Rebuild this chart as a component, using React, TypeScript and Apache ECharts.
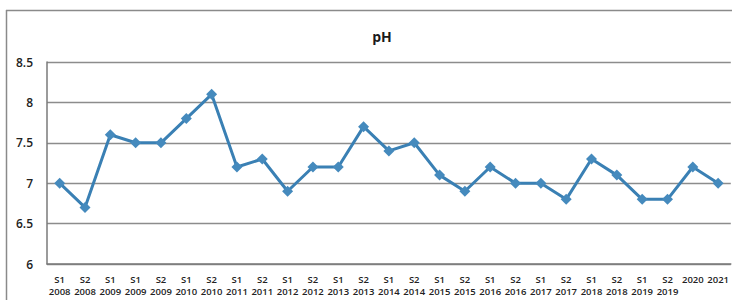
import React, { useEffect, useRef } from "react";
import * as echarts from "echarts";

const categories = [
  "S1\n2008", "S2\n2008", "S1\n2009", "S1\n2009", "S2\n2009", "S1\n2010", "S2\n2010",
  "S1\n2011", "S2\n2011", "S1\n2012", "S2\n2012", "S1\n2013", "S2\n2013", "S1\n2014",
  "S2\n2014", "S1\n2015", "S2\n2015", "S1\n2016", "S2\n2016", "S1\n2017", "S2\n2017",
  "S1\n2018", "S2\n2018", "S1\n2019", "S2\n2019", "2020", "2021",
];
const phValues = [
  7.0, 6.7, 7.6, 7.5, 7.5, 7.8, 8.1, 7.2, 7.3, 6.9, 7.2, 7.2, 7.7, 7.4,
  7.5, 7.1, 6.9, 7.2, 7.0, 7.0, 6.8, 7.3, 7.1, 6.8, 6.8, 7.2, 7.0,
];
const title = "pH";
const yMin = 6;
const yMax = 8.5;
const yStep = 0.5;

export default function App() {
  const ref = useRef<HTMLDivElement>(null);
  useEffect(() => {
    document.body.style.margin = "0";
    const chart = echarts.init(ref.current!, null, { renderer: "svg" });
    const font = "'Open Sans', 'DejaVu Sans', sans-serif";
    chart.setOption({
      animation: false,
      backgroundColor: "#ffffff",
      title: {
        text: title,
        left: 377,
        top: 24,
        textAlign: "center",
        textStyle: { fontFamily: font, fontSize: 14, fontWeight: "bold", color: "#1a1a1a" },
      },
      graphic: [
        { type: "line", shape: { x1: 6.5, y1: 10, x2: 6.5, y2: 300 }, style: { stroke: "#8a8a8a", lineWidth: 1.5 } },
        { type: "line", shape: { x1: 6, y1: 10.5, x2: 732, y2: 10.5 }, style: { stroke: "#8a8a8a", lineWidth: 1.5 } },
      ],
      grid: { left: 47, right: 1, top: 62, bottom: 36, containLabel: false },
      xAxis: {
        type: "category",
        data: categories,
        boundaryGap: true,
        axisLine: { show: true, lineStyle: { color: "#7a7a7a", width: 1.5 } },
        axisTick: { show: false },
        axisLabel: {
          interval: 0,
          margin: 9,
          fontFamily: font,
          fontSize: 9.5,
          fontWeight: 600,
          color: "#222",
          lineHeight: 12,
        },
      },
      yAxis: {
        type: "value",
        min: yMin,
        max: yMax,
        interval: yStep,
        axisLine: { show: true, lineStyle: { color: "#7a7a7a", width: 1.5 } },
        axisTick: { show: false },
        splitLine: { show: true, lineStyle: { color: "#8c8c8c", width: 1.3 } },
        axisLabel: {
          margin: 14,
          fontFamily: font,
          fontSize: 12,
          fontWeight: 600,
          color: "#222",
        },
      },
      series: [
        {
          type: "line",
          data: phValues,
          symbol: "diamond",
          symbolSize: 11,
          lineStyle: { color: "#3a80b4", width: 3 },
          itemStyle: { color: "#458abd" },
        },
      ],
    });
    return () => chart.dispose();
  }, []);
  return <div ref={ref} style={{ width: 732, height: 300 }} />;
}
